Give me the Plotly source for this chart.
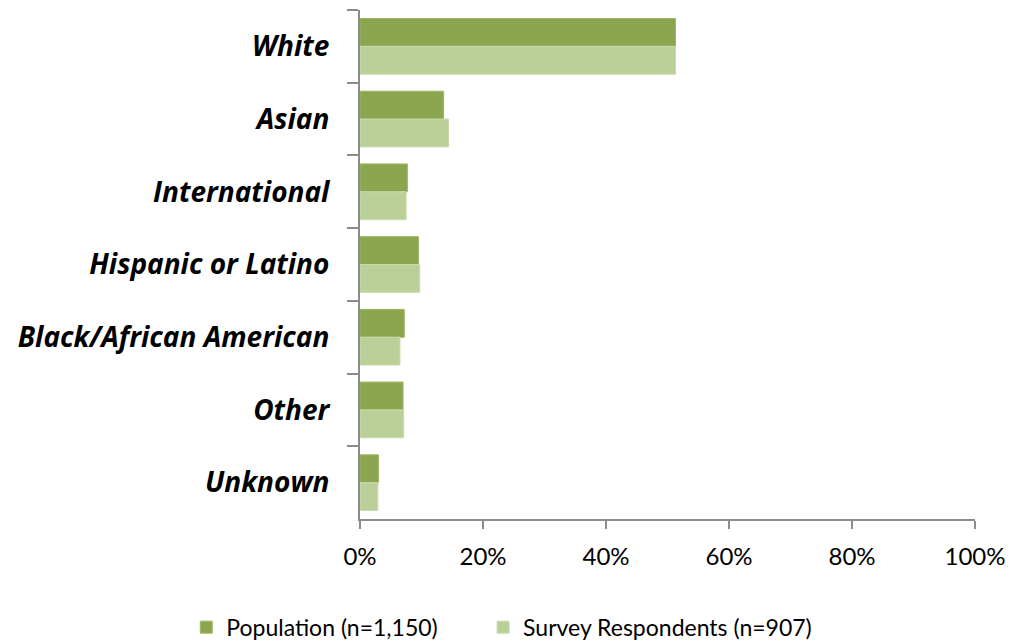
import plotly.graph_objects as go

categories = ["White", "Asian", "International", "Hispanic or Latino",
              "Black/African American", "Other", "Unknown"]
population = [51.3, 13.6, 7.7, 9.5, 7.2, 7.0, 3.0]
respondents = [51.3, 14.4, 7.5, 9.7, 6.5, 7.1, 2.9]

pop_color = "#8BA64F"
resp_color = "#BBD099"

fig = go.Figure()
fig.add_trace(go.Bar(
    y=categories, x=population, orientation="h",
    name="Population (n=1,150)", showlegend=True,
    marker=dict(color=pop_color, line=dict(color="#9DB766", width=1)),
))
fig.add_trace(go.Bar(
    y=categories, x=respondents, orientation="h",
    name="Survey Respondents (n=907)", legend="legend2", showlegend=True,
    marker=dict(color=resp_color, line=dict(color="#C8DAAC", width=1)),
))

# page body has an 8px margin, so margins are shifted to compensate
leg = dict(orientation="h", xref="container", xanchor="left",
           yref="container", y=0.034, yanchor="middle",
           font=dict(size=23), itemwidth=30)
fig.update_layout(
    width=1013, height=641, showlegend=True,
    barmode="group", bargap=0.234, bargroupgap=0,
    plot_bgcolor="white", paper_bgcolor="white",
    margin=dict(l=352, r=46, t=2, b=130),
    font=dict(family="Lato, sans-serif", color="black"),
    legend=dict(leg, x=0.176),
    legend2=dict(leg, x=0.469),
)

fig.update_xaxes(
    range=[0, 100], tickvals=[0, 20, 40, 60, 80, 100],
    ticktext=["0%", "20%", "40%", "60%", "80%", "100%"],
    showgrid=False, zeroline=False,
    showline=True, linecolor="#8C8C8C", linewidth=2,
    ticks="outside", ticklen=8, tickwidth=2, tickcolor="#8C8C8C",
    tickfont=dict(size=24), ticklabelstandoff=7,
)
fig.update_yaxes(
    autorange="reversed", showgrid=False, zeroline=False,
    showline=True, linecolor="#8C8C8C", linewidth=2,
    ticks="outside", ticklen=11, tickwidth=2, tickcolor="#8C8C8C",
    tickson="boundaries",
    tickfont=dict(family="Open Sans, sans-serif", size=28,
                  weight="bold", style="italic"),
    ticklabelstandoff=23,
)

fig.write_html("out.html")
